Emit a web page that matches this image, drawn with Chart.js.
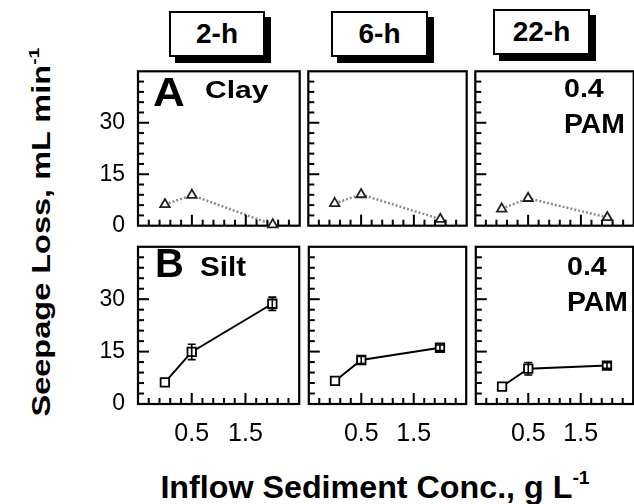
<!DOCTYPE html>
<html>
<head>
<meta charset="utf-8">
<script src="https://cdn.jsdelivr.net/npm/chart.js@4.4.1/dist/chart.umd.min.js"></script>
<style>
  html, body { margin: 0; padding: 0; background: #fff; overflow: hidden; }
  #wrap { position: relative; width: 660px; height: 504px; font-family: 'Liberation Sans', Arial, sans-serif; color: #000; }
  #wrap canvas { position: absolute; }
  .tab { position: absolute; height: 46px; border: 2px solid #000; background: #fff; box-shadow: 6px 6px 0 #000;
         box-sizing: border-box; font-weight: bold; font-size: 28px; line-height: 42px; text-align: center; }
  .txt { position: absolute; white-space: nowrap; font-weight: bold; line-height: 1; transform-origin: 0 0; }
  .title { position: absolute; white-space: nowrap; font-weight: bold; line-height: 1; }
  .title sup { font-size: 60%; vertical-align: 0; position: relative; top: -0.75em; }
</style>
</head>
<body>
<div id="wrap">
  <div class="tab" style="left:169px; top:11px; width:96px;">2-h</div>
  <div class="tab" style="left:331px; top:11px; width:97px;">6-h</div>
  <div class="tab" style="left:493px; top:9px; width:97px;">22-h</div>
  <div class="title" id="ytitle" style="font-size:25px;">Seepage Loss, mL min<sup>-1</sup></div>
  <div class="title" id="xtitle" style="font-size:31px;">Inflow Sediment Conc., g L<sup>-1</sup></div>
</div>
<script>
// --- data ---
const conc = [0, 0.5, 2.0];                 // inflow sediment conc., g/L
const periods = ['2-h', '6-h', '22-h'];
const clay2h = [6.2, 8.9, 0.3];
const clay6h = [6.5, 9.1, 1.9];
const clay22h = [4.9, 8.0, 2.4];
const silt2h = [6.2, 14.9, 28.7];
const silt6h = [6.6, 12.6, 16.1];
const silt22h = [5.0, 10.1, 11.0];
const silt2hErr = [0, 2.2, 1.9];
const silt6hErr = [0, 1.0, 0.8];
const silt22hErr = [0, 1.8, 0.8];
const yTickLabels = [0, 15, 30];
const xTickLabels = [0.5, 1.5];

const FONT = "'Liberation Sans', Arial, sans-serif";
const wrap = document.getElementById('wrap');

// panel frame positions
const colLeft = [138, 304, 471];
const colRight = [304, 471, 638];
const rowTop = [67, 242];
const rowBottom = [230, 404];
const yLabW = 50, xLabH = 50, pad = 3;

// minor tick positions
const yMinor = [];
for (let k = 1; k < 15; k++) yMinor.push(k * 3);
const xMinor = [];
for (let k = 0; k < 14; k++) xMinor.push(Math.round((-0.3 + k * 0.2) * 10) / 10);

// frame, error bars and inward tick marks
const panelDeco = {
  id: 'panelDeco',
  beforeDatasetsDraw(chart) {
    const ctx = chart.ctx, a = chart.chartArea;
    ctx.save();
    ctx.strokeStyle = '#000';
    ctx.lineWidth = 2.2;
    ctx.strokeRect(a.left, a.top, a.right - a.left, a.bottom - a.top);
    ctx.restore();
  },
  afterDatasetsDraw(chart) {
    const ctx = chart.ctx, a = chart.chartArea;
    const xs = chart.scales.x, ys = chart.scales.y;
    ctx.save();
    ctx.setLineDash([]);
    ctx.strokeStyle = '#000';
    ctx.lineWidth = 1.6;
    chart.data.datasets.forEach(ds => {
      if (!ds.errors) return;
      ds.data.forEach((p, i) => {
        const e = ds.errors[i];
        if (!e) return;
        const px = xs.getPixelForValue(p.x);
        const top = ys.getPixelForValue(p.y + e), bot = ys.getPixelForValue(p.y - e);
        ctx.beginPath();
        ctx.moveTo(px, top); ctx.lineTo(px, bot);
        ctx.moveTo(px - 4, top); ctx.lineTo(px + 4, top);
        ctx.moveTo(px - 4, bot); ctx.lineTo(px + 4, bot);
        ctx.stroke();
      });
    });
    ctx.restore();

    // tick marks, drawn with rectangles
    ctx.save();
    ctx.fillStyle = '#000';
    const left = a.left, bottom = a.bottom;
    for (let k = 0; k < xMinor.length; k++) {
      const v = xMinor[k];
      const px = xs.getPixelForValue(v);
      const len = (Math.abs(v - 0.5) < 1e-6 || Math.abs(v - 1.5) < 1e-6) ? 11 : 6;
      ctx.fillRect(px - 1, bottom - len, 2, len);
    }
    for (let k = 0; k < yMinor.length; k++) {
      const v = yMinor[k];
      const py = ys.getPixelForValue(v);
      const len = (v % 15 === 0) ? 11 : 6;
      ctx.fillRect(left, py - 1, len, 2);
    }
    ctx.restore();
  }
};

function pts(vals) { return conc.map((c, i) => ({ x: c, y: vals[i] })); }

function clayDs(vals) {
  return {
    data: pts(vals), showLine: true, clip: false,
    borderColor: '#8c8c8c', borderWidth: 2.5, borderDash: [2, 2],
    pointStyle: 'triangle', pointRadius: 5.5, pointBorderWidth: 1.8,
    pointBorderColor: '#222', pointBackgroundColor: '#fff'
  };
}
function siltDs(vals, errs) {
  return {
    data: pts(vals), errors: errs, showLine: true, clip: false,
    borderColor: '#000', borderWidth: 2,
    pointStyle: 'rect', pointRadius: 6, pointBorderWidth: 1.8,
    pointBorderColor: '#000', pointBackgroundColor: '#fff'
  };
}

const panels = [
  [clayDs(clay2h), clayDs(clay6h), clayDs(clay22h)],
  [siltDs(silt2h, silt2hErr), siltDs(silt6h, silt6hErr), siltDs(silt22h, silt22hErr)]
];

function noPad(s) {
  s.paddingTop = 0; s.paddingBottom = 0; s.paddingLeft = 0; s.paddingRight = 0;
}

panels.forEach((row, r) => {
  row.forEach((ds, c) => {
    const padL = c === 0 ? yLabW : pad;
    const padB = r === 1 ? xLabH : pad;
    const cv = document.createElement('canvas');
    const w = colRight[c] - colLeft[c] + padL + pad;
    const h = rowBottom[r] - rowTop[r] + pad + padB;
    cv.width = w; cv.height = h;
    cv.style.left = (colLeft[c] - padL) + 'px';
    cv.style.top = (rowTop[r] - pad) + 'px';
    cv.style.width = w + 'px'; cv.style.height = h + 'px';
    wrap.appendChild(cv);

    new Chart(cv, {
      type: 'scatter',
      data: { datasets: [ds] },
      plugins: [panelDeco],
      options: {
        responsive: false,
        animation: false,
        devicePixelRatio: 1,
        layout: { padding: { left: c === 0 ? 0 : pad, right: pad, top: pad, bottom: r === 1 ? 0 : pad } },
        plugins: { legend: { display: false }, tooltip: { enabled: false } },
        scales: {
          x: {
            type: 'linear', min: -0.5, max: 2.5,
            grid: { display: false, drawTicks: false }, border: { display: false },
            afterBuildTicks: s => { s.ticks = xTickLabels.map(v => ({ value: v })); },
            afterFit: s => { s.height = r === 1 ? xLabH : 0; noPad(s); },
            ticks: {
              display: r === 1, autoSkip: false, maxRotation: 0, padding: 15, color: '#000',
              font: { size: 25, family: FONT }
            }
          },
          y: {
            type: 'linear', min: 0, max: 45,
            grid: { display: false, drawTicks: false }, border: { display: false },
            afterBuildTicks: s => { s.ticks = yTickLabels.map(v => ({ value: v })); },
            afterFit: s => { s.width = c === 0 ? yLabW : 0; noPad(s); },
            ticks: {
              display: c === 0, autoSkip: false, padding: 13, color: '#000',
              font: { size: 23, family: FONT }
            }
          }
        }
      }
    });
  });
});

// panel annotations
function addText(str, left, baseline, size, sx) {
  const d = document.createElement('div');
  d.className = 'txt';
  d.textContent = str;
  d.style.fontSize = size + 'px';
  d.style.left = left + 'px';
  d.style.top = (baseline - 0.8465 * size) + 'px';
  d.style.transform = 'scaleX(' + (sx || 1) + ')';
  wrap.appendChild(d);
}
addText('A', 153, 106, 40, 1.1);
addText('Clay', 205, 98, 24, 1.25);
addText('0.4', 564, 97, 26, 1.1);
addText('PAM', 564, 134, 27, 1.05);
addText('B', 155, 277, 40, 1.0);
addText('Silt', 200, 277, 27, 1.1);
addText('0.4', 567, 275, 26, 1.1);
addText('PAM', 567, 312, 27, 1.05);

// axis titles
const yt = document.getElementById('ytitle');
yt.style.left = '41px'; yt.style.top = '232px';
yt.style.transform = 'translate(-50%, -50%) rotate(-90deg) scaleX(1.3)';
const xt = document.getElementById('xtitle');
xt.style.left = '375px'; xt.style.top = '487px';
xt.style.transform = 'translate(-50%, -50%) scaleX(1.04)';
</script>
</body>
</html>
